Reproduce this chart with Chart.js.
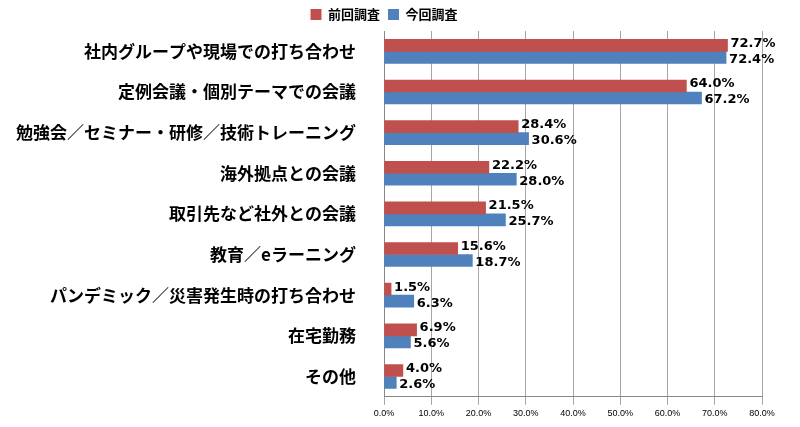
<!DOCTYPE html>
<html>
<head>
<meta charset="utf-8">
<script src="https://cdn.jsdelivr.net/npm/chart.js@4"></script>
<style>
body { margin: 0; background: #fff; }
#wrap { width: 800px; height: 427px; }
</style>
</head>
<body>
<div id="wrap"><canvas id="c"></canvas></div>
<script>
const categories = [
  "社内グループや現場での打ち合わせ",
  "定例会議・個別テーマでの会議",
  "勉強会／セミナー・研修／技術トレーニング",
  "海外拠点との会議",
  "取引先など社外との会議",
  "教育／eラーニング",
  "パンデミック／災害発生時の打ち合わせ",
  "在宅勤務",
  "その他"
]
const previous = [72.7, 64.0, 28.4, 22.2, 21.5, 15.6, 1.5, 6.9, 4.0]
const current = [72.4, 67.2, 30.6, 28.0, 25.7, 18.7, 6.3, 5.6, 2.6]
const xTicks = [0, 10, 20, 30, 40, 50, 60, 70, 80]

const labelPlugin = {
  id: "barLabels",
  afterDatasetsDraw(chart) {
    const ctx = chart.ctx
    ctx.save()
    ctx.font = "bold 13px 'DejaVu Sans', sans-serif"
    ctx.fillStyle = "#000"
    ctx.textBaseline = "middle"
    chart.data.datasets.forEach((ds, i) => {
      chart.getDatasetMeta(i).data.forEach((bar, j) => {
        ctx.fillText(ds.data[j].toFixed(1) + "%", bar.x + 3, bar.y + (i === 0 ? -2 : 2))
      })
    })
    ctx.restore()
  }
}

new Chart(document.getElementById("c"), {
  type: "bar",
  data: {
    labels: categories,
    datasets: [
      { label: "前回調査", data: previous, backgroundColor: "#C0504D", barThickness: 12 },
      { label: "今回調査", data: current, backgroundColor: "#4F81BD", barThickness: 12 }
    ]
  },
  options: {
    indexAxis: "y",
    responsive: true,
    maintainAspectRatio: false,
    animation: false,
    layout: { padding: { left: 6, right: 38, top: 0, bottom: 2 } },
    plugins: {
      legend: {
        position: "top",
        labels: {
          boxWidth: 11, boxHeight: 11, padding: 8,
          font: { size: 13, weight: "bold", family: "'Noto Sans CJK JP', sans-serif" },
          color: "#000"
        }
      },
      tooltip: { enabled: false }
    },
    scales: {
      x: {
        min: 0, max: 80,
        afterBuildTicks: axis => { axis.ticks = xTicks.map(v => ({ value: v })) },
        ticks: { callback: v => v.toFixed(1) + "%", font: { size: 9 }, color: "#000", maxRotation: 0 },
        grid: { color: "#a6a6a6", drawTicks: true },
        border: { color: "#888" }
      },
      y: {
        ticks: {
          font: { size: 17, weight: "bold", family: "'Noto Sans CJK JP', sans-serif" },
          color: "#000", padding: 20
        },
        grid: { display: false },
        border: { color: "#888" }
      }
    }
  },
  plugins: [labelPlugin]
})
</script>
</body>
</html>
